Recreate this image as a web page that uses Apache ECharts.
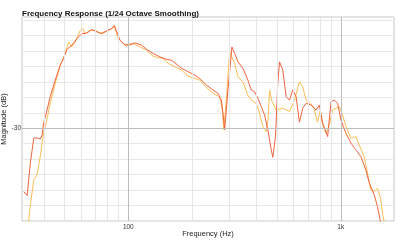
<!DOCTYPE html>
<html>
<head>
<meta charset="utf-8">
<script src="https://cdn.jsdelivr.net/npm/echarts@6/dist/echarts.min.js"></script>
<style>html,body{margin:0;padding:0;background:#fff;}#c{width:400px;height:240px;}</style>
</head>
<body>
<div id="c"></div>
<script>
const titleText = 'Frequency Response (1/24 Octave Smoothing)';
const xName = 'Frequency (Hz)';
const yName = 'Magnitude (dB)';
const xMajor = [100, 1000];
const xMinor = [40, 50, 60, 70, 80, 90, 200, 300, 400, 500, 600, 700, 800, 900];
const yLabelValue = -30;

const redFreq = [32.2, 33.4, 34.6, 35.9, 37.2, 38.5, 39.3, 39.9, 40.7, 42.9, 45.3, 47.8, 49.6, 51.4, 54.3, 57.3, 60.4, 63.8, 67.3, 71.1, 75.0, 79.2, 83.6, 86.0, 88.2, 91.4, 96.5, 101.9, 107.5, 115.6, 122.0, 131.0, 140.8, 151.4, 159.8, 165.6, 178.0, 191.2, 205.5, 216.9, 233.2, 250.4, 264.3, 274.2, 279.0, 284.1, 294.4, 307.4, 316.5, 328.1, 346.2, 365.4, 379.2, 392.9, 407.2, 422.4, 437.8, 453.7, 470.7, 478.8, 492.9, 505.3, 514.7, 533.4, 553.3, 573.4, 594.2, 616.4, 638.8, 662.1, 686.7, 724.8, 764.9, 793.0, 821.6, 867.0, 899.5, 932.0, 965.8, 1001.9, 1057.5, 1116.2, 1178.2, 1243.6, 1312.7, 1360.4, 1435.5, 1487.7, 1531.9, 1560];
const redDb = [-50.5, -51.8, -41.2, -33.2, -33.1, -33.5, -32.2, -28.4, -26.3, -19.8, -14.4, -9.6, -7.4, -4.5, -3.1, -1.0, 0.6, 0.8, 1.9, 1.2, 0.6, 1.5, 2.3, 3.3, 1.2, -1.5, -3.1, -2.8, -2.4, -3.1, -4.5, -5.8, -6.9, -7.7, -8.0, -8.8, -10.6, -11.7, -12.8, -13.9, -16.0, -17.6, -18.7, -20.9, -25.2, -30.5, -17.6, -3.7, -5.8, -8.5, -10.6, -14.4, -17.6, -18.2, -20.3, -23.0, -25.7, -30.5, -37.0, -39.4, -32.7, -15.4, -8.5, -11.2, -19.8, -20.9, -17.6, -19.8, -28.0, -23.5, -21.9, -22.5, -24.1, -22.5, -28.3, -32.7, -21.4, -20.9, -21.9, -27.3, -31.6, -34.8, -37.0, -39.2, -43.5, -47.6, -51.5, -55.3, -59.6, -63];

const yelFreq = [33.6, 34.0, 34.6, 35.9, 37.2, 38.5, 39.9, 41.4, 42.9, 45.3, 47.8, 50.5, 52.3, 54.3, 56.2, 59.4, 61.1, 62.6, 66.1, 69.8, 73.7, 77.8, 82.1, 86.0, 89.8, 94.7, 100, 105.6, 113.5, 122.0, 128.7, 135.9, 145.9, 154.1, 165.6, 178.0, 191.2, 205.5, 216.9, 233.2, 250.4, 269.2, 277.2, 281.1, 290.4, 299.9, 305.5, 316.5, 328.1, 346.2, 365.4, 379.2, 400.2, 414.8, 429.7, 445.9, 454.6, 462.1, 472.1, 496.6, 533.4, 573.4, 605.2, 638.8, 662.1, 686.7, 711.7, 745, 776, 800, 821.6, 852.1, 883.1, 915.2, 949.3, 983.8, 1019.5, 1057.5, 1116.2, 1178.2, 1221.2, 1288.8, 1335.6, 1385.4, 1435.5, 1487.7, 1543.3, 1570.5, 1599.3, 1616];
const yelDb = [-63.5, -59.6, -54.7, -46.7, -45.1, -39.2, -31.6, -27.3, -21.8, -15.5, -9.6, -5.8, -2.1, -3.7, -2.1, 1.7, 2.3, 0.6, 1.7, 1.7, 0.8, 1.2, 1.9, 2.8, -1.0, -2.6, -3.4, -2.6, -3.7, -4.7, -6.4, -7.1, -7.4, -9.0, -10.1, -11.2, -13.1, -13.9, -14.4, -16.8, -18.7, -19.8, -24.1, -30.5, -19.3, -5.3, -4.7, -9.0, -13.4, -15.0, -19.3, -20.9, -21.9, -25.2, -29.5, -31.1, -27.3, -17.6, -20.9, -24.1, -23.5, -24.6, -20.9, -15.0, -16.6, -20.9, -21.9, -23.0, -28.0, -24.5, -28.9, -31.6, -28.9, -24.1, -23.5, -23.0, -25.7, -29.5, -33.2, -32.7, -35.4, -39.2, -44.5, -49.9, -50.5, -49.4, -53.1, -57.4, -60.2, -62.8];

const FONT = '"Liberation Sans", Arial, sans-serif';
const pair = (f, d) => f.map((v, i) => [v, d[i]]);

const chart = echarts.init(document.getElementById('c'), null, {renderer: 'canvas'});
chart.setOption({
  animation: false,
  backgroundColor: '#fff',
  title: {
    text: titleText, left: 17, top: 5,
    textStyle: {fontFamily: FONT, fontSize: 8, fontWeight: 'bold', color: '#111'}
  },
  grid: {left: 22, right: 6, top: 17, bottom: 19, show: true, borderColor: '#c4c4c4', borderWidth: 1, containLabel: false, outerBoundsMode: 'none'},
  xAxis: {
    type: 'log', logBase: 10, min: 31.6, max: 1780,
    name: xName, nameLocation: 'middle', nameGap: 9, nameMoveOverlap: false,
    nameTextStyle: {fontFamily: FONT, fontSize: 7.5, color: '#222'},
    axisLine: {show: false}, axisTick: {show: false},
    splitLine: {show: false},
    axisLabel: {
      fontFamily: FONT, fontSize: 6.5, color: '#333', margin: 3,
      showMinLabel: false, showMaxLabel: false,
      formatter: v => Math.abs(v - 100) < 1 ? '100' : (Math.abs(v - 1000) < 1 ? '1k' : '')
    }
  },
  yAxis: {
    type: 'value', min: -60, max: 6, interval: 5,
    name: yName, nameLocation: 'middle', nameGap: 14, nameRotate: 90, nameMoveOverlap: false,
    nameTextStyle: {fontFamily: FONT, fontSize: 7.5, color: '#222'},
    axisLine: {show: false}, axisTick: {show: false},
    splitLine: {show: true, lineStyle: {color: '#e8e8e8', width: 1}},
    axisLabel: {
      fontFamily: FONT, fontSize: 6.5, color: '#333', margin: 1,
      formatter: v => v === yLabelValue ? String(v) : ''
    }
  },
  series: [
    {
      type: 'line', data: [[100, -100]], showSymbol: false, silent: true,
      lineStyle: {opacity: 0},
      markLine: {
        silent: true, symbol: 'none', label: {show: false}, animation: false,
        lineStyle: {color: '#e6e6e6', width: 1, type: 'solid'},
        data: xMinor.map(v => ({xAxis: v}))
      }
    },
    {
      type: 'line', data: [[100, -100]], showSymbol: false, silent: true,
      lineStyle: {opacity: 0},
      markLine: {
        silent: true, symbol: 'none', label: {show: false}, animation: false,
        lineStyle: {color: '#bdbdbd', width: 1, type: 'solid'},
        data: xMajor.map(v => ({xAxis: v})).concat([{yAxis: yLabelValue}])
      }
    },
    {
      type: 'line', data: pair(yelFreq, yelDb), showSymbol: false, smooth: false,
      lineStyle: {color: '#fbbd55', width: 1}
    },
    {
      type: 'line', data: pair(redFreq, redDb), showSymbol: false, smooth: false,
      lineStyle: {color: '#f0623f', width: 1}
    }
  ]
});
</script>
</body>
</html>
